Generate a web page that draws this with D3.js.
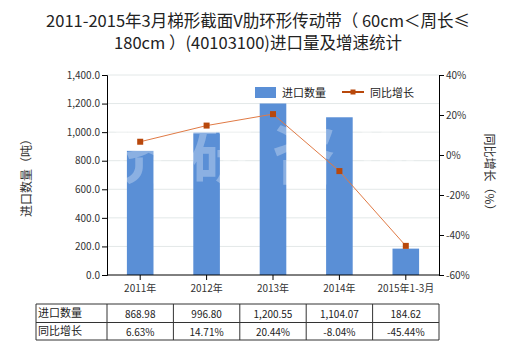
<!DOCTYPE html>
<html><head><meta charset="utf-8">
<script src="https://cdn.jsdelivr.net/npm/d3@7"></script>
<style>body{margin:0;background:#fff}svg{display:block}text{font-family:"Noto Sans CJK SC","Noto Sans",sans-serif}</style>
</head><body>
<svg id="c" width="520" height="350"></svg>
<script>
const categories = ["2011年","2012年","2013年","2014年","2015年1-3月"];
const volume = [868.98, 996.80, 1200.55, 1104.07, 184.62];
const growth = [6.63, 14.71, 20.44, -8.04, -45.44];
const volumeLabels = ["868.98","996.80","1,200.55","1,104.07","184.62"];
const growthLabels = ["6.63%","14.71%","20.44%","-8.04%","-45.44%"];
const leftTicks = [0,200,400,600,800,1000,1200,1400];
const rightTicks = [-60,-40,-20,0,20,40];
const seriesNames = ["进口数量","同比增长"];

const svg = d3.select("#c");
const L = 107, R = 439, T = 75, B = 275;
const xc = d3.scaleBand().domain(categories).range([L, R]);
const yL = d3.scaleLinear().domain([0,1400]).range([B, T]);
const yR = d3.scaleLinear().domain([-60,40]).range([B, T]);

// title
const title = svg.append("text").attr("text-anchor","middle").attr("font-size",16.5).attr("fill","#222");
title.append("tspan").attr("x",258).attr("y",27).text("2011-2015年3月梯形截面V肋环形传动带（ 60cm＜周长≤");
title.append("tspan").attr("x",258).attr("y",49).text("180cm ）(40103100)进口量及增速统计");

// grid
svg.append("g").selectAll("line").data(leftTicks.slice(1)).join("line")
  .attr("x1",L).attr("x2",R).attr("y1",d=>yL(d)).attr("y2",d=>yL(d))
  .attr("stroke","#e3e8e8").attr("stroke-width",1);

// bars
svg.append("g").selectAll("rect").data(volume).join("rect")
  .attr("x",(d,i)=>xc(categories[i])+xc.bandwidth()/2-13.3).attr("width",26.6)
  .attr("y",d=>yL(d)).attr("height",d=>B-yL(d)).attr("fill","#5a8fd6");

// watermark
const wm = ["济","研","咨","询"];
svg.append("g").selectAll("text").data(wm).join("text")
  .attr("x",(d,i)=>140+i*82).attr("y",178).attr("text-anchor","middle")
  .attr("font-size",64).attr("font-weight","bold").attr("fill","#ffffff").attr("fill-opacity",0.3)
  .text(d=>d);

// line
const cx = c => xc(c)+xc.bandwidth()/2;
svg.append("path").datum(growth)
  .attr("d", d3.line().x((d,i)=>cx(categories[i])).y(d=>yR(d)))
  .attr("fill","none").attr("stroke","#e07a45").attr("stroke-width",1);
svg.append("g").selectAll("rect").data(growth).join("rect")
  .attr("x",(d,i)=>cx(categories[i])-3).attr("y",d=>yR(d)-3).attr("width",6).attr("height",6)
  .attr("fill","#b8480c");

// axes
const axL = svg.append("g").attr("transform",`translate(${L},0)`)
  .call(d3.axisLeft(yL).tickValues(leftTicks).tickSize(5).tickFormat(d3.format(",.1f")));
const axR = svg.append("g").attr("transform",`translate(${R},0)`)
  .call(d3.axisRight(yR).tickValues(rightTicks).tickSize(5).tickFormat(d=>d+"%"));
const axB = svg.append("g").attr("transform",`translate(0,${B})`)
  .call(d3.axisBottom(xc).tickSize(5).tickSizeOuter(0));
[axL,axR,axB].forEach(a=>{
  a.selectAll("path").attr("stroke","#000");
  a.selectAll("line").attr("stroke","#000");
  a.selectAll("text").attr("font-size",10).attr("fill","#333").attr("font-family","'Noto Sans','DejaVu Sans',sans-serif");
});
axL.selectAll("text").attr("x",-7);
axR.selectAll("text").attr("x",7);
axB.selectAll("text").attr("y",10);
axB.select(".domain").attr("d",`M${L},0H${R}`);

// axis titles
svg.append("text").attr("transform","translate(31,175) rotate(-90)").attr("text-anchor","middle")
  .attr("font-size",12).attr("fill","#333").text("进口数量（吨）");
svg.append("text").attr("transform","translate(485,175) rotate(90)").attr("text-anchor","middle")
  .attr("font-size",12).attr("fill","#333").text("同比增长（%）");

// legend
const lg = svg.append("g");
lg.append("rect").attr("x",255).attr("y",87).attr("width",21).attr("height",11).attr("fill","#5a8fd6");
lg.append("text").attr("x",282).attr("y",96.5).attr("font-size",11).attr("fill","#222").text(seriesNames[0]);
lg.append("line").attr("x1",342).attr("x2",364).attr("y1",92).attr("y2",92).attr("stroke","#b8480c").attr("stroke-width",2);
lg.append("rect").attr("x",350.5).attr("y",89.5).attr("width",5).attr("height",5).attr("fill","#b8480c");
lg.append("text").attr("x",370).attr("y",96.5).attr("font-size",11).attr("fill","#222").text(seriesNames[1]);

// table
const tT = 304, tM = 322.5, tB = 340, tL = 36;
const tg = svg.append("g");
const cols = [tL, L].concat(categories.map(c=>xc(c)+xc.bandwidth()));
tg.selectAll("line.v").data(cols).join("line").attr("class","v")
  .attr("x1",d=>d).attr("x2",d=>d).attr("y1",tT).attr("y2",tB).attr("stroke","#333");
tg.selectAll("line.h").data([tT,tM,tB]).join("line").attr("class","h")
  .attr("x1",tL).attr("x2",R).attr("y1",d=>d).attr("y2",d=>d).attr("stroke","#333");
tg.append("text").attr("x",38).attr("y",317).attr("font-size",11).attr("fill","#222").text(seriesNames[0]);
tg.append("text").attr("x",38).attr("y",335).attr("font-size",11).attr("fill","#222").text(seriesNames[1]);
tg.selectAll("text.v1").data(volumeLabels).join("text").attr("class","v1")
  .attr("x",(d,i)=>cx(categories[i])).attr("y",317.5).attr("text-anchor","middle")
  .attr("font-size",10).attr("fill","#222").attr("font-family","'Noto Sans','DejaVu Sans',sans-serif").text(d=>d);
tg.selectAll("text.v2").data(growthLabels).join("text").attr("class","v2")
  .attr("x",(d,i)=>cx(categories[i])).attr("y",335.5).attr("text-anchor","middle")
  .attr("font-size",10).attr("fill","#222").attr("font-family","'Noto Sans','DejaVu Sans',sans-serif").text(d=>d);
</script>
</body></html>
